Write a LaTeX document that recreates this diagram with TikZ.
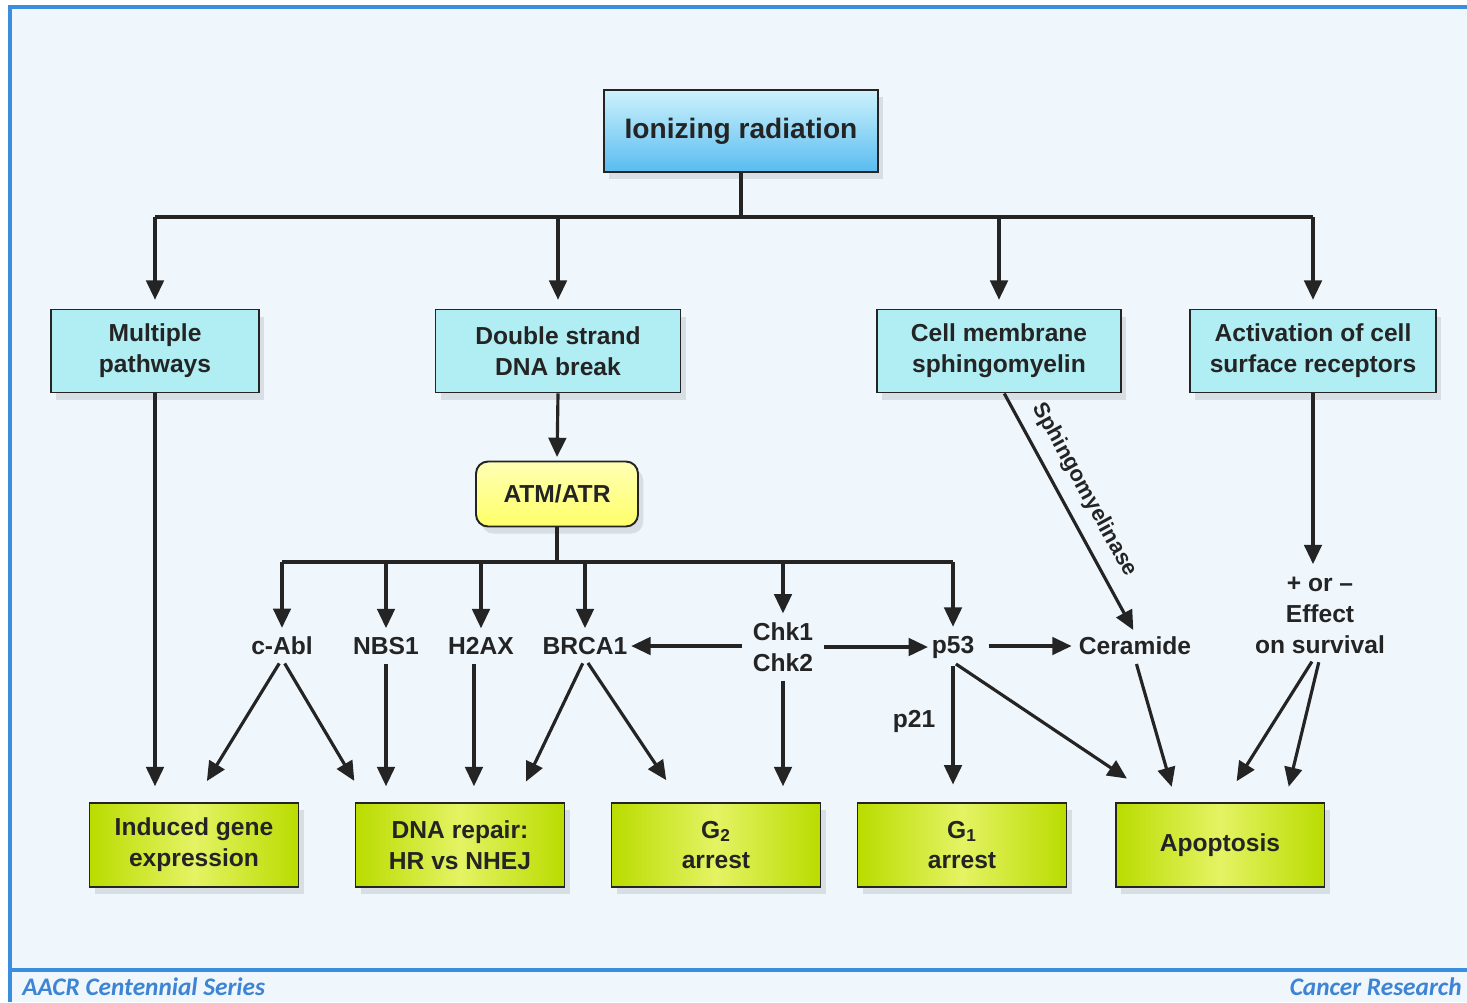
\documentclass[tikz,border=0pt]{standalone}
\usepackage{fontspec}
\setmainfont{Liberation Sans}
\newfontfamily\footfont{Carlito}
\usetikzlibrary{arrows.meta,shadows}
\definecolor{bg}{RGB}{239,247,253}
\definecolor{frame}{RGB}{59,142,222}
\definecolor{ink}{RGB}{36,36,36}
\definecolor{skytop}{RGB}{205,242,252}
\definecolor{skybot}{RGB}{88,188,240}
\definecolor{aqua}{RGB}{176,238,244}
\definecolor{yeltop}{RGB}{255,255,180}
\definecolor{yelbot}{RGB}{255,255,105}
\definecolor{limeedge}{RGB}{186,220,0}
\definecolor{limemid}{RGB}{228,243,100}
\definecolor{footblue}{RGB}{62,132,212}
\tikzset{
	box/.style={draw=ink, line width=1.1pt, align=center, text=ink,
		font=\fontsize{14}{17.6}\selectfont\bfseries, minimum height=1.66cm,
		drop shadow={opacity=0.2, shadow xshift=3pt, shadow yshift=-4pt}},
	srcbox/.style={box, fill=aqua},
	topbox/.style={box, top color=skytop, bottom color=skybot,
		font=\fontsize{16}{19}\selectfont\bfseries, minimum width=5.48cm, minimum height=1.64cm},
	endbox/.style={box, left color=limeedge, right color=limeedge, middle color=limemid,
		minimum width=4.18cm, minimum height=1.68cm},
	kinase/.style={box, rounded corners=0.24cm, top color=yeltop, bottom color=yelbot,
		minimum width=3.24cm, minimum height=1.3cm},
	lbl/.style={align=center, text=ink, font=\fontsize{14}{17.6}\selectfont\bfseries, inner sep=2pt},
	bus/.style={draw=ink, line width=1.8pt},
	arr/.style={bus, -{Triangle[length=11pt,width=10pt]}},
}
\begin{document}
\begin{tikzpicture}[x=0.02cm,y=-0.02cm]
		\useasboundingbox (0,0) rectangle (1467,1002);
		\fill[bg] (10,7) rectangle (1467,1002);
		\draw[frame, line width=2.2pt] (10,1002) -- (10,7) -- (1467,7);
		\draw[frame, line width=2.2pt] (10,970) -- (1467,970);
		
		\node[topbox] (ir) at (741,131) {Ionizing radiation};
		
		\node[srcbox, minimum width=4.16cm] (mp) at (155,351) {Multiple\\pathways};
		\node[srcbox, minimum width=4.9cm] (ds) at (558,351) {Double strand\\DNA break};
		\node[srcbox, minimum width=4.88cm] (cm) at (999,351) {Cell membrane\\sphingomyelin};
		\node[srcbox, minimum width=4.92cm] (ar) at (1313,351) {Activation of cell\\surface receptors};
		
		\node[kinase] (at) at (557,494) {ATM/ATR};
		
		\node[lbl] (ca) at (282,646) {c-Abl};
		\node[lbl] (nb) at (386,646) {NBS1};
		\node[lbl] (hx) at (481,646) {H2AX};
		\node[lbl] (br) at (585,646) {BRCA1};
		\node[lbl] (ck) at (783,647) {Chk1\\Chk2};
		\node[lbl] (p) at (953,647) {p53};
		\node[lbl] (cer) at (1135,646) {Ceramide};
		\node[lbl] (eff) at (1320,615) {+ or –\\Effect\\on survival};
		\node[lbl] (pa) at (914,721) {p21};
		
		\node[endbox] (ig) at (194,845) {Induced gene\\expression};
		\node[endbox] (dr) at (460,845) {DNA repair:\\HR vs NHEJ};
		\node[endbox] (g2) at (716,845) {G\textsubscript{2}\\arrest};
		\node[endbox] (g1) at (962,845) {G\textsubscript{1}\\arrest};
		\node[endbox] (ap) at (1220,845) {Apoptosis};
		
		\coordinate (top) at (741,217);
		\coordinate (mid) at (557,562);
		
		\draw[bus] (ir.south) -- (ir.south |- top);
		\draw[bus] (mp.north |- top) -- (ar.north |- top);
		\foreach \n in {mp,ds,cm,ar}
			\draw[arr, shorten >=5pt] (\n.north |- top) -- (\n.north);
		
		\draw[arr, shorten >=9pt] (mp.south) -- (mp.south |- ig.north);
		\draw[arr, shorten >=2pt] (ds.south) -- (at.north);
		
		\draw[bus] (at.south) -- (at.south |- mid);
		\draw[bus] (ca.north |- mid) -- (p.north |- mid);
		\foreach \n in {ca,nb,hx,br,ck,p}
			\draw[arr, shorten >=3pt] (\n.north |- mid) -- (\n.north);
		
		\draw[arr, shorten <=4pt] (ck.west |- br.east) -- (br.east);
		\draw[arr, shorten <=4pt] (ck.east |- p.west) -- (p.west);
		\draw[arr, shorten <=6pt, shorten >=2pt] (p.east |- cer.west) -- (cer.west);
		\draw[arr, shorten >=2pt] ([xshift=3pt]cm.south) -- (cer.north)
			node[lbl, pos=0.45, sloped, above=5pt, font=\fontsize{12.5}{15}\selectfont\bfseries] (sm) {Sphingomyelinase};
		\draw[arr, shorten >=5pt] (ar.south) -- (ar.south |- eff.north);
		
		\draw[arr, shorten <=3pt, shorten >=14pt] (ca.south) -- (ig.north);
		\draw[arr, shorten <=3pt, shorten >=14pt] (ca.south) -- ([xshift=7pt]dr.north west);
		\draw[arr, shorten <=3pt, shorten >=9pt] (nb.south) -- (nb.south |- dr.north);
		\draw[arr, shorten <=3pt, shorten >=9pt] ([xshift=-4pt]hx.south) -- ([xshift=-4pt]hx.south |- dr.north);
		\draw[arr, shorten <=3pt, shorten >=13pt] (br.south) -- ([xshift=-28pt]dr.north east);
		\draw[arr, shorten <=3pt, shorten >=15pt] (br.south) -- ([xshift=-20pt]g2.north);
		\draw[arr, shorten <=3pt, shorten >=9pt] (ck.south) -- (ck.south |- g2.north);
		\draw[arr, shorten <=2pt, shorten >=10pt] (p.south) -- (p.south |- g1.north);
		\draw[arr, shorten <=2pt, shorten >=24pt] (p.south) -- ([xshift=27pt]ap.north west);
		\draw[arr, shorten <=3pt, shorten >=9pt] (cer.south) -- ([xshift=35pt]ap.north west);
		\draw[arr, shorten <=3pt, shorten >=14pt] ([xshift=-3pt]eff.south) -- ([xshift=2pt]ap.north);
		\draw[arr, shorten <=3pt, shorten >=9pt] (eff.south) -- ([xshift=-23pt]ap.north east);
		
		\node[anchor=base west, inner sep=0, text=footblue,
			font=\footfont\fontsize{14.4}{17}\selectfont\bfseries\itshape] (fl) at (22,995) {AACR Centennial Series};
		\node[anchor=base east, inner sep=0, text=footblue,
			font=\footfont\fontsize{14.4}{17}\selectfont\bfseries\itshape] (fr) at (1462,995) {Cancer Research};
	\end{tikzpicture}
\end{document}
